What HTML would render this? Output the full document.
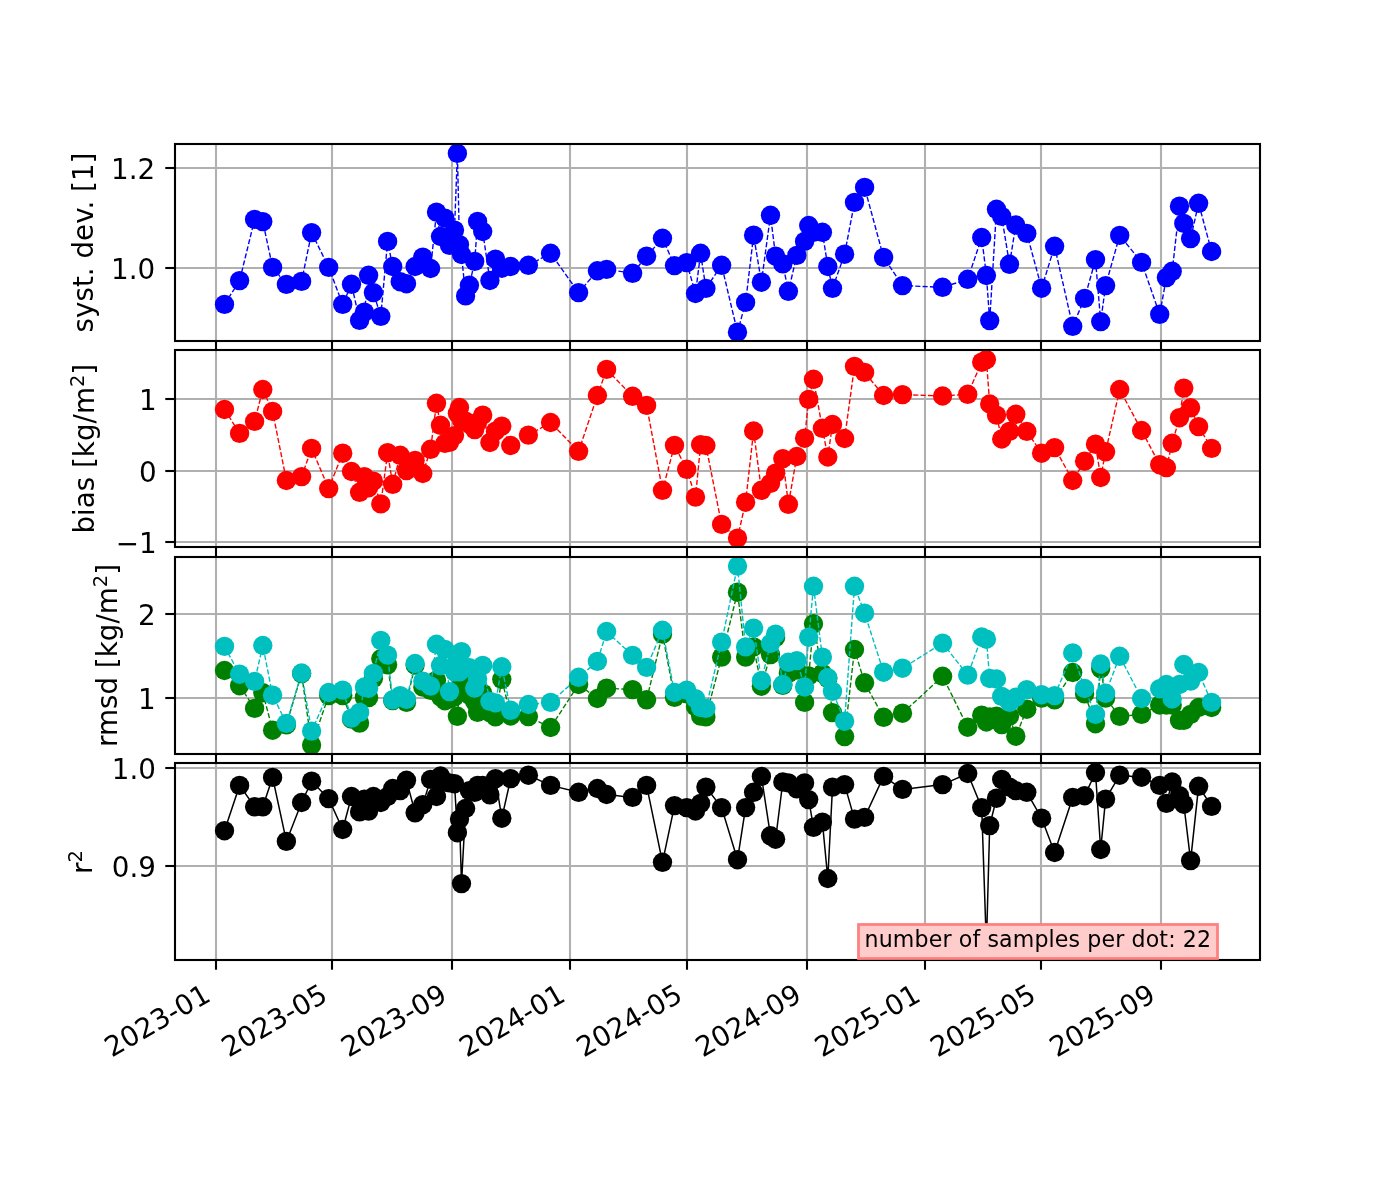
<!DOCTYPE html>
<html><head><meta charset="utf-8"><title>plot</title>
<style>html,body{margin:0;padding:0;background:#fff}svg{display:block}text{font-family:"DejaVu Sans","Liberation Sans",sans-serif;fill:#000}</style></head><body>
<svg width="1400" height="1200" viewBox="0 0 1400 1200">
<rect width="1400" height="1200" fill="#fff"/>
<defs>
<clipPath id="c0"><rect x="175.0" y="144.0" width="1085.0" height="197.0"/></clipPath>
<clipPath id="c1"><rect x="175.0" y="350.0" width="1085.0" height="197.0"/></clipPath>
<clipPath id="c2"><rect x="175.0" y="557.0" width="1085.0" height="197.0"/></clipPath>
<clipPath id="c3"><rect x="175.0" y="763.0" width="1085.0" height="197.0"/></clipPath>
</defs>
<g stroke="#b0b0b0" stroke-width="2.1" fill="none">
<line x1="216" y1="144.0" x2="216" y2="341.0"/>
<line x1="332" y1="144.0" x2="332" y2="341.0"/>
<line x1="452" y1="144.0" x2="452" y2="341.0"/>
<line x1="570" y1="144.0" x2="570" y2="341.0"/>
<line x1="687" y1="144.0" x2="687" y2="341.0"/>
<line x1="807" y1="144.0" x2="807" y2="341.0"/>
<line x1="925" y1="144.0" x2="925" y2="341.0"/>
<line x1="1041" y1="144.0" x2="1041" y2="341.0"/>
<line x1="1161" y1="144.0" x2="1161" y2="341.0"/>
<line x1="175.0" y1="168" x2="1260.0" y2="168"/>
<line x1="175.0" y1="268" x2="1260.0" y2="268"/>
</g>
<g clip-path="url(#c0)">
<polyline points="224.5,304.4 239.6,280.6 254.6,219.4 262.8,221.6 272.6,267.4 286.4,284.4 301.6,281.4 311.6,232.6 328.7,267.4 342.7,304.4 351.5,284.3 359.6,320.4 364.4,312.1 368.6,275.3 373.4,292.6 380.8,316.4 387.6,241.4 392.7,266.5 400.2,281.7 406.5,283.7 415.1,266.5 422.8,257.1 430.6,268.5 436.5,212.1 440.5,236.5 444.9,218.1 449.5,245.3 454.5,230.1 457.4,153.4 459.5,244.6 461.5,254.5 465.6,295.9 469.4,285.3 474.7,261.4 477.6,221.4 482.7,231.5 489.9,280.5 495.5,259.1 501.8,268.2 510.7,266.5 528.4,265.3 550.6,253.3 578.6,292.6 597.4,270.8 606.6,269.4 632.6,273.3 646.6,256.2 662.5,238.3 674.5,265.6 686.7,262.6 695.5,293.5 700.6,253.3 705.9,288.4 721.6,265.3 737.5,332.2 745.6,302.4 753.6,235.2 761.4,282.2 770.5,215.3 775.6,256.2 782.8,263.9 788.4,291.3 796.8,255.4 804.6,241.4 808.7,225.5 813.5,232.4 822.4,232.3 827.8,266.5 832.5,288.3 844.6,254.2 854.5,202.4 864.6,187.4 883.6,257.4 902.5,285.6 942.6,287.3 967.7,279.3 981.7,237.5 986.4,275.5 989.7,320.6 996.5,209.3 1001.7,216.4 1009.5,264.3 1015.8,225.0 1026.8,233.4 1041.6,288.2 1054.6,246.3 1072.7,326.3 1084.6,298.4 1095.5,259.7 1100.7,321.6 1105.6,285.6 1119.7,235.4 1141.6,262.4 1159.7,314.3 1166.4,277.6 1172.2,271.3 1179.5,206.2 1183.8,223.4 1190.6,238.6 1198.6,203.3 1211.6,251.5" fill="none" stroke="#0000ff" stroke-width="1.4" stroke-dasharray="5.1 2.2"/>
<g fill="#0000ff">
<circle cx="224.5" cy="304.4" r="9.68"/>
<circle cx="239.6" cy="280.6" r="9.68"/>
<circle cx="254.6" cy="219.4" r="9.68"/>
<circle cx="262.8" cy="221.6" r="9.68"/>
<circle cx="272.6" cy="267.4" r="9.68"/>
<circle cx="286.4" cy="284.4" r="9.68"/>
<circle cx="301.6" cy="281.4" r="9.68"/>
<circle cx="311.6" cy="232.6" r="9.68"/>
<circle cx="328.7" cy="267.4" r="9.68"/>
<circle cx="342.7" cy="304.4" r="9.68"/>
<circle cx="351.5" cy="284.3" r="9.68"/>
<circle cx="359.6" cy="320.4" r="9.68"/>
<circle cx="364.4" cy="312.1" r="9.68"/>
<circle cx="368.6" cy="275.3" r="9.68"/>
<circle cx="373.4" cy="292.6" r="9.68"/>
<circle cx="380.8" cy="316.4" r="9.68"/>
<circle cx="387.6" cy="241.4" r="9.68"/>
<circle cx="392.7" cy="266.5" r="9.68"/>
<circle cx="400.2" cy="281.7" r="9.68"/>
<circle cx="406.5" cy="283.7" r="9.68"/>
<circle cx="415.1" cy="266.5" r="9.68"/>
<circle cx="422.8" cy="257.1" r="9.68"/>
<circle cx="430.6" cy="268.5" r="9.68"/>
<circle cx="436.5" cy="212.1" r="9.68"/>
<circle cx="440.5" cy="236.5" r="9.68"/>
<circle cx="444.9" cy="218.1" r="9.68"/>
<circle cx="449.5" cy="245.3" r="9.68"/>
<circle cx="454.5" cy="230.1" r="9.68"/>
<circle cx="457.4" cy="153.4" r="9.68"/>
<circle cx="459.5" cy="244.6" r="9.68"/>
<circle cx="461.5" cy="254.5" r="9.68"/>
<circle cx="465.6" cy="295.9" r="9.68"/>
<circle cx="469.4" cy="285.3" r="9.68"/>
<circle cx="474.7" cy="261.4" r="9.68"/>
<circle cx="477.6" cy="221.4" r="9.68"/>
<circle cx="482.7" cy="231.5" r="9.68"/>
<circle cx="489.9" cy="280.5" r="9.68"/>
<circle cx="495.5" cy="259.1" r="9.68"/>
<circle cx="501.8" cy="268.2" r="9.68"/>
<circle cx="510.7" cy="266.5" r="9.68"/>
<circle cx="528.4" cy="265.3" r="9.68"/>
<circle cx="550.6" cy="253.3" r="9.68"/>
<circle cx="578.6" cy="292.6" r="9.68"/>
<circle cx="597.4" cy="270.8" r="9.68"/>
<circle cx="606.6" cy="269.4" r="9.68"/>
<circle cx="632.6" cy="273.3" r="9.68"/>
<circle cx="646.6" cy="256.2" r="9.68"/>
<circle cx="662.5" cy="238.3" r="9.68"/>
<circle cx="674.5" cy="265.6" r="9.68"/>
<circle cx="686.7" cy="262.6" r="9.68"/>
<circle cx="695.5" cy="293.5" r="9.68"/>
<circle cx="700.6" cy="253.3" r="9.68"/>
<circle cx="705.9" cy="288.4" r="9.68"/>
<circle cx="721.6" cy="265.3" r="9.68"/>
<circle cx="737.5" cy="332.2" r="9.68"/>
<circle cx="745.6" cy="302.4" r="9.68"/>
<circle cx="753.6" cy="235.2" r="9.68"/>
<circle cx="761.4" cy="282.2" r="9.68"/>
<circle cx="770.5" cy="215.3" r="9.68"/>
<circle cx="775.6" cy="256.2" r="9.68"/>
<circle cx="782.8" cy="263.9" r="9.68"/>
<circle cx="788.4" cy="291.3" r="9.68"/>
<circle cx="796.8" cy="255.4" r="9.68"/>
<circle cx="804.6" cy="241.4" r="9.68"/>
<circle cx="808.7" cy="225.5" r="9.68"/>
<circle cx="813.5" cy="232.4" r="9.68"/>
<circle cx="822.4" cy="232.3" r="9.68"/>
<circle cx="827.8" cy="266.5" r="9.68"/>
<circle cx="832.5" cy="288.3" r="9.68"/>
<circle cx="844.6" cy="254.2" r="9.68"/>
<circle cx="854.5" cy="202.4" r="9.68"/>
<circle cx="864.6" cy="187.4" r="9.68"/>
<circle cx="883.6" cy="257.4" r="9.68"/>
<circle cx="902.5" cy="285.6" r="9.68"/>
<circle cx="942.6" cy="287.3" r="9.68"/>
<circle cx="967.7" cy="279.3" r="9.68"/>
<circle cx="981.7" cy="237.5" r="9.68"/>
<circle cx="986.4" cy="275.5" r="9.68"/>
<circle cx="989.7" cy="320.6" r="9.68"/>
<circle cx="996.5" cy="209.3" r="9.68"/>
<circle cx="1001.7" cy="216.4" r="9.68"/>
<circle cx="1009.5" cy="264.3" r="9.68"/>
<circle cx="1015.8" cy="225.0" r="9.68"/>
<circle cx="1026.8" cy="233.4" r="9.68"/>
<circle cx="1041.6" cy="288.2" r="9.68"/>
<circle cx="1054.6" cy="246.3" r="9.68"/>
<circle cx="1072.7" cy="326.3" r="9.68"/>
<circle cx="1084.6" cy="298.4" r="9.68"/>
<circle cx="1095.5" cy="259.7" r="9.68"/>
<circle cx="1100.7" cy="321.6" r="9.68"/>
<circle cx="1105.6" cy="285.6" r="9.68"/>
<circle cx="1119.7" cy="235.4" r="9.68"/>
<circle cx="1141.6" cy="262.4" r="9.68"/>
<circle cx="1159.7" cy="314.3" r="9.68"/>
<circle cx="1166.4" cy="277.6" r="9.68"/>
<circle cx="1172.2" cy="271.3" r="9.68"/>
<circle cx="1179.5" cy="206.2" r="9.68"/>
<circle cx="1183.8" cy="223.4" r="9.68"/>
<circle cx="1190.6" cy="238.6" r="9.68"/>
<circle cx="1198.6" cy="203.3" r="9.68"/>
<circle cx="1211.6" cy="251.5" r="9.68"/>
</g>
</g>
<g stroke="#000" stroke-width="2.1">
<line x1="216" y1="341.0" x2="216" y2="350.72"/>
<line x1="332" y1="341.0" x2="332" y2="350.72"/>
<line x1="452" y1="341.0" x2="452" y2="350.72"/>
<line x1="570" y1="341.0" x2="570" y2="350.72"/>
<line x1="687" y1="341.0" x2="687" y2="350.72"/>
<line x1="807" y1="341.0" x2="807" y2="350.72"/>
<line x1="925" y1="341.0" x2="925" y2="350.72"/>
<line x1="1041" y1="341.0" x2="1041" y2="350.72"/>
<line x1="1161" y1="341.0" x2="1161" y2="350.72"/>
<line x1="165.28" y1="168" x2="175.0" y2="168"/>
<line x1="165.28" y1="268" x2="175.0" y2="268"/>
</g>
<rect x="175.0" y="144.0" width="1085.0" height="197.0" fill="none" stroke="#000" stroke-width="2.1"/>
<text x="155.26" y="178.85" font-size="27.78" text-anchor="end">1.2</text>
<text x="155.26" y="278.85" font-size="27.78" text-anchor="end">1.0</text>
<g stroke="#b0b0b0" stroke-width="2.1" fill="none">
<line x1="216" y1="350.0" x2="216" y2="547.0"/>
<line x1="332" y1="350.0" x2="332" y2="547.0"/>
<line x1="452" y1="350.0" x2="452" y2="547.0"/>
<line x1="570" y1="350.0" x2="570" y2="547.0"/>
<line x1="687" y1="350.0" x2="687" y2="547.0"/>
<line x1="807" y1="350.0" x2="807" y2="547.0"/>
<line x1="925" y1="350.0" x2="925" y2="547.0"/>
<line x1="1041" y1="350.0" x2="1041" y2="547.0"/>
<line x1="1161" y1="350.0" x2="1161" y2="547.0"/>
<line x1="175.0" y1="399" x2="1260.0" y2="399"/>
<line x1="175.0" y1="471" x2="1260.0" y2="471"/>
<line x1="175.0" y1="542" x2="1260.0" y2="542"/>
</g>
<g clip-path="url(#c1)">
<polyline points="224.5,409.5 239.6,433.4 254.6,421.4 262.8,389.5 272.6,411.4 286.4,480.5 301.6,476.6 311.6,448.4 328.7,488.6 342.7,453.2 351.5,471.5 359.6,492.3 364.4,476.6 368.6,487.7 373.4,481.2 380.8,503.9 387.6,452.7 392.7,484.3 400.2,455.3 406.5,470.6 415.1,460.4 422.8,473.5 430.6,449.3 436.5,403.3 440.5,425.3 444.9,443.4 449.5,442.3 454.5,435.6 457.4,413.3 459.5,407.5 461.5,420.1 465.6,421.1 469.4,424.1 474.7,429.6 477.6,422.1 482.7,415.1 489.9,442.5 495.5,431.2 501.8,426.1 510.7,445.5 528.4,435.1 550.6,422.5 578.6,451.3 597.4,395.5 606.6,369.4 632.6,396.3 646.6,405.4 662.5,490.3 674.5,445.4 686.7,469.3 695.5,497.1 700.6,444.7 705.9,445.5 721.6,524.4 737.5,538.1 745.6,502.2 753.6,431.0 761.4,490.3 770.5,483.4 775.6,473.2 782.8,458.7 788.4,504.3 796.8,456.5 804.6,438.2 808.7,399.4 813.5,379.3 822.4,428.3 827.8,457.0 832.5,424.5 844.6,438.5 854.5,366.4 864.6,372.4 883.6,395.5 902.5,394.6 942.6,396.0 967.7,394.3 981.7,362.2 986.4,359.6 989.7,404.0 996.5,415.1 1001.7,439.0 1009.5,431.4 1015.8,414.3 1026.8,431.4 1041.6,453.2 1054.6,447.6 1072.7,480.5 1084.6,461.2 1095.5,444.2 1100.7,477.5 1105.6,451.8 1119.7,389.5 1141.6,430.5 1159.7,464.7 1166.4,467.6 1172.2,443.3 1179.5,417.7 1183.8,388.1 1190.6,407.8 1198.6,426.6 1211.6,448.4" fill="none" stroke="#ff0000" stroke-width="1.4" stroke-dasharray="5.1 2.2"/>
<g fill="#ff0000">
<circle cx="224.5" cy="409.5" r="9.68"/>
<circle cx="239.6" cy="433.4" r="9.68"/>
<circle cx="254.6" cy="421.4" r="9.68"/>
<circle cx="262.8" cy="389.5" r="9.68"/>
<circle cx="272.6" cy="411.4" r="9.68"/>
<circle cx="286.4" cy="480.5" r="9.68"/>
<circle cx="301.6" cy="476.6" r="9.68"/>
<circle cx="311.6" cy="448.4" r="9.68"/>
<circle cx="328.7" cy="488.6" r="9.68"/>
<circle cx="342.7" cy="453.2" r="9.68"/>
<circle cx="351.5" cy="471.5" r="9.68"/>
<circle cx="359.6" cy="492.3" r="9.68"/>
<circle cx="364.4" cy="476.6" r="9.68"/>
<circle cx="368.6" cy="487.7" r="9.68"/>
<circle cx="373.4" cy="481.2" r="9.68"/>
<circle cx="380.8" cy="503.9" r="9.68"/>
<circle cx="387.6" cy="452.7" r="9.68"/>
<circle cx="392.7" cy="484.3" r="9.68"/>
<circle cx="400.2" cy="455.3" r="9.68"/>
<circle cx="406.5" cy="470.6" r="9.68"/>
<circle cx="415.1" cy="460.4" r="9.68"/>
<circle cx="422.8" cy="473.5" r="9.68"/>
<circle cx="430.6" cy="449.3" r="9.68"/>
<circle cx="436.5" cy="403.3" r="9.68"/>
<circle cx="440.5" cy="425.3" r="9.68"/>
<circle cx="444.9" cy="443.4" r="9.68"/>
<circle cx="449.5" cy="442.3" r="9.68"/>
<circle cx="454.5" cy="435.6" r="9.68"/>
<circle cx="457.4" cy="413.3" r="9.68"/>
<circle cx="459.5" cy="407.5" r="9.68"/>
<circle cx="461.5" cy="420.1" r="9.68"/>
<circle cx="465.6" cy="421.1" r="9.68"/>
<circle cx="469.4" cy="424.1" r="9.68"/>
<circle cx="474.7" cy="429.6" r="9.68"/>
<circle cx="477.6" cy="422.1" r="9.68"/>
<circle cx="482.7" cy="415.1" r="9.68"/>
<circle cx="489.9" cy="442.5" r="9.68"/>
<circle cx="495.5" cy="431.2" r="9.68"/>
<circle cx="501.8" cy="426.1" r="9.68"/>
<circle cx="510.7" cy="445.5" r="9.68"/>
<circle cx="528.4" cy="435.1" r="9.68"/>
<circle cx="550.6" cy="422.5" r="9.68"/>
<circle cx="578.6" cy="451.3" r="9.68"/>
<circle cx="597.4" cy="395.5" r="9.68"/>
<circle cx="606.6" cy="369.4" r="9.68"/>
<circle cx="632.6" cy="396.3" r="9.68"/>
<circle cx="646.6" cy="405.4" r="9.68"/>
<circle cx="662.5" cy="490.3" r="9.68"/>
<circle cx="674.5" cy="445.4" r="9.68"/>
<circle cx="686.7" cy="469.3" r="9.68"/>
<circle cx="695.5" cy="497.1" r="9.68"/>
<circle cx="700.6" cy="444.7" r="9.68"/>
<circle cx="705.9" cy="445.5" r="9.68"/>
<circle cx="721.6" cy="524.4" r="9.68"/>
<circle cx="737.5" cy="538.1" r="9.68"/>
<circle cx="745.6" cy="502.2" r="9.68"/>
<circle cx="753.6" cy="431.0" r="9.68"/>
<circle cx="761.4" cy="490.3" r="9.68"/>
<circle cx="770.5" cy="483.4" r="9.68"/>
<circle cx="775.6" cy="473.2" r="9.68"/>
<circle cx="782.8" cy="458.7" r="9.68"/>
<circle cx="788.4" cy="504.3" r="9.68"/>
<circle cx="796.8" cy="456.5" r="9.68"/>
<circle cx="804.6" cy="438.2" r="9.68"/>
<circle cx="808.7" cy="399.4" r="9.68"/>
<circle cx="813.5" cy="379.3" r="9.68"/>
<circle cx="822.4" cy="428.3" r="9.68"/>
<circle cx="827.8" cy="457.0" r="9.68"/>
<circle cx="832.5" cy="424.5" r="9.68"/>
<circle cx="844.6" cy="438.5" r="9.68"/>
<circle cx="854.5" cy="366.4" r="9.68"/>
<circle cx="864.6" cy="372.4" r="9.68"/>
<circle cx="883.6" cy="395.5" r="9.68"/>
<circle cx="902.5" cy="394.6" r="9.68"/>
<circle cx="942.6" cy="396.0" r="9.68"/>
<circle cx="967.7" cy="394.3" r="9.68"/>
<circle cx="981.7" cy="362.2" r="9.68"/>
<circle cx="986.4" cy="359.6" r="9.68"/>
<circle cx="989.7" cy="404.0" r="9.68"/>
<circle cx="996.5" cy="415.1" r="9.68"/>
<circle cx="1001.7" cy="439.0" r="9.68"/>
<circle cx="1009.5" cy="431.4" r="9.68"/>
<circle cx="1015.8" cy="414.3" r="9.68"/>
<circle cx="1026.8" cy="431.4" r="9.68"/>
<circle cx="1041.6" cy="453.2" r="9.68"/>
<circle cx="1054.6" cy="447.6" r="9.68"/>
<circle cx="1072.7" cy="480.5" r="9.68"/>
<circle cx="1084.6" cy="461.2" r="9.68"/>
<circle cx="1095.5" cy="444.2" r="9.68"/>
<circle cx="1100.7" cy="477.5" r="9.68"/>
<circle cx="1105.6" cy="451.8" r="9.68"/>
<circle cx="1119.7" cy="389.5" r="9.68"/>
<circle cx="1141.6" cy="430.5" r="9.68"/>
<circle cx="1159.7" cy="464.7" r="9.68"/>
<circle cx="1166.4" cy="467.6" r="9.68"/>
<circle cx="1172.2" cy="443.3" r="9.68"/>
<circle cx="1179.5" cy="417.7" r="9.68"/>
<circle cx="1183.8" cy="388.1" r="9.68"/>
<circle cx="1190.6" cy="407.8" r="9.68"/>
<circle cx="1198.6" cy="426.6" r="9.68"/>
<circle cx="1211.6" cy="448.4" r="9.68"/>
</g>
</g>
<g stroke="#000" stroke-width="2.1">
<line x1="216" y1="547.0" x2="216" y2="556.72"/>
<line x1="332" y1="547.0" x2="332" y2="556.72"/>
<line x1="452" y1="547.0" x2="452" y2="556.72"/>
<line x1="570" y1="547.0" x2="570" y2="556.72"/>
<line x1="687" y1="547.0" x2="687" y2="556.72"/>
<line x1="807" y1="547.0" x2="807" y2="556.72"/>
<line x1="925" y1="547.0" x2="925" y2="556.72"/>
<line x1="1041" y1="547.0" x2="1041" y2="556.72"/>
<line x1="1161" y1="547.0" x2="1161" y2="556.72"/>
<line x1="165.28" y1="399" x2="175.0" y2="399"/>
<line x1="165.28" y1="471" x2="175.0" y2="471"/>
<line x1="165.28" y1="542" x2="175.0" y2="542"/>
</g>
<rect x="175.0" y="350.0" width="1085.0" height="197.0" fill="none" stroke="#000" stroke-width="2.1"/>
<text x="156.76" y="409.85" font-size="27.78" text-anchor="end">1</text>
<text x="156.76" y="481.85" font-size="27.78" text-anchor="end">0</text>
<text x="156.76" y="552.85" font-size="27.78" text-anchor="end">−1</text>
<g stroke="#b0b0b0" stroke-width="2.1" fill="none">
<line x1="216" y1="557.0" x2="216" y2="754.0"/>
<line x1="332" y1="557.0" x2="332" y2="754.0"/>
<line x1="452" y1="557.0" x2="452" y2="754.0"/>
<line x1="570" y1="557.0" x2="570" y2="754.0"/>
<line x1="687" y1="557.0" x2="687" y2="754.0"/>
<line x1="807" y1="557.0" x2="807" y2="754.0"/>
<line x1="925" y1="557.0" x2="925" y2="754.0"/>
<line x1="1041" y1="557.0" x2="1041" y2="754.0"/>
<line x1="1161" y1="557.0" x2="1161" y2="754.0"/>
<line x1="175.0" y1="614" x2="1260.0" y2="614"/>
<line x1="175.0" y1="698" x2="1260.0" y2="698"/>
</g>
<g clip-path="url(#c2)">
<polyline points="224.5,670.5 239.6,685.7 254.6,708.4 262.8,692.7 272.6,730.2 286.4,724.9 301.6,673.6 311.6,745.1 328.7,695.6 342.7,695.6 351.5,719.1 359.6,723.1 364.4,697.3 368.6,697.6 373.4,678.5 380.8,658.8 387.6,664.8 392.7,700.6 400.2,697.1 406.5,702.4 415.1,665.1 422.8,687.1 430.6,690.4 436.5,680.1 440.5,696.8 444.9,700.7 449.5,699.1 454.5,696.8 457.4,716.3 459.5,690.1 461.5,680.1 465.6,690.1 469.4,695.1 474.7,701.7 477.6,712.3 482.7,693.1 489.9,712.6 495.5,716.8 501.8,679.3 510.7,716.0 528.4,716.6 550.6,727.5 578.6,684.5 597.4,698.5 606.6,688.2 632.6,689.6 646.6,699.8 662.5,634.1 674.5,697.3 686.7,693.9 695.5,706.7 700.6,716.1 705.9,716.9 721.6,657.1 737.5,592.2 745.6,657.1 753.6,646.9 761.4,686.2 770.5,654.6 775.6,637.5 782.8,685.3 788.4,673.4 796.8,670.0 804.6,702.4 808.7,675.9 813.5,623.8 822.4,673.4 827.8,678.5 832.5,712.6 844.6,736.6 854.5,649.5 864.6,682.8 883.6,717.3 902.5,713.2 942.6,676.3 967.7,727.2 981.7,715.2 986.4,722.0 989.7,716.9 996.5,716.1 1001.7,724.6 1009.5,716.1 1015.8,736.2 1026.8,709.2 1041.6,698.1 1054.6,699.8 1072.7,672.5 1084.6,693.9 1095.5,723.7 1100.7,668.6 1105.6,698.1 1119.7,716.4 1141.6,714.4 1159.7,705.0 1166.4,705.0 1172.2,705.0 1179.5,720.3 1183.8,720.3 1190.6,714.4 1198.6,707.5 1211.6,707.5" fill="none" stroke="#008000" stroke-width="1.4" stroke-dasharray="5.1 2.2"/>
<g fill="#008000">
<circle cx="224.5" cy="670.5" r="9.68"/>
<circle cx="239.6" cy="685.7" r="9.68"/>
<circle cx="254.6" cy="708.4" r="9.68"/>
<circle cx="262.8" cy="692.7" r="9.68"/>
<circle cx="272.6" cy="730.2" r="9.68"/>
<circle cx="286.4" cy="724.9" r="9.68"/>
<circle cx="301.6" cy="673.6" r="9.68"/>
<circle cx="311.6" cy="745.1" r="9.68"/>
<circle cx="328.7" cy="695.6" r="9.68"/>
<circle cx="342.7" cy="695.6" r="9.68"/>
<circle cx="351.5" cy="719.1" r="9.68"/>
<circle cx="359.6" cy="723.1" r="9.68"/>
<circle cx="364.4" cy="697.3" r="9.68"/>
<circle cx="368.6" cy="697.6" r="9.68"/>
<circle cx="373.4" cy="678.5" r="9.68"/>
<circle cx="380.8" cy="658.8" r="9.68"/>
<circle cx="387.6" cy="664.8" r="9.68"/>
<circle cx="392.7" cy="700.6" r="9.68"/>
<circle cx="400.2" cy="697.1" r="9.68"/>
<circle cx="406.5" cy="702.4" r="9.68"/>
<circle cx="415.1" cy="665.1" r="9.68"/>
<circle cx="422.8" cy="687.1" r="9.68"/>
<circle cx="430.6" cy="690.4" r="9.68"/>
<circle cx="436.5" cy="680.1" r="9.68"/>
<circle cx="440.5" cy="696.8" r="9.68"/>
<circle cx="444.9" cy="700.7" r="9.68"/>
<circle cx="449.5" cy="699.1" r="9.68"/>
<circle cx="454.5" cy="696.8" r="9.68"/>
<circle cx="457.4" cy="716.3" r="9.68"/>
<circle cx="459.5" cy="690.1" r="9.68"/>
<circle cx="461.5" cy="680.1" r="9.68"/>
<circle cx="465.6" cy="690.1" r="9.68"/>
<circle cx="469.4" cy="695.1" r="9.68"/>
<circle cx="474.7" cy="701.7" r="9.68"/>
<circle cx="477.6" cy="712.3" r="9.68"/>
<circle cx="482.7" cy="693.1" r="9.68"/>
<circle cx="489.9" cy="712.6" r="9.68"/>
<circle cx="495.5" cy="716.8" r="9.68"/>
<circle cx="501.8" cy="679.3" r="9.68"/>
<circle cx="510.7" cy="716.0" r="9.68"/>
<circle cx="528.4" cy="716.6" r="9.68"/>
<circle cx="550.6" cy="727.5" r="9.68"/>
<circle cx="578.6" cy="684.5" r="9.68"/>
<circle cx="597.4" cy="698.5" r="9.68"/>
<circle cx="606.6" cy="688.2" r="9.68"/>
<circle cx="632.6" cy="689.6" r="9.68"/>
<circle cx="646.6" cy="699.8" r="9.68"/>
<circle cx="662.5" cy="634.1" r="9.68"/>
<circle cx="674.5" cy="697.3" r="9.68"/>
<circle cx="686.7" cy="693.9" r="9.68"/>
<circle cx="695.5" cy="706.7" r="9.68"/>
<circle cx="700.6" cy="716.1" r="9.68"/>
<circle cx="705.9" cy="716.9" r="9.68"/>
<circle cx="721.6" cy="657.1" r="9.68"/>
<circle cx="737.5" cy="592.2" r="9.68"/>
<circle cx="745.6" cy="657.1" r="9.68"/>
<circle cx="753.6" cy="646.9" r="9.68"/>
<circle cx="761.4" cy="686.2" r="9.68"/>
<circle cx="770.5" cy="654.6" r="9.68"/>
<circle cx="775.6" cy="637.5" r="9.68"/>
<circle cx="782.8" cy="685.3" r="9.68"/>
<circle cx="788.4" cy="673.4" r="9.68"/>
<circle cx="796.8" cy="670.0" r="9.68"/>
<circle cx="804.6" cy="702.4" r="9.68"/>
<circle cx="808.7" cy="675.9" r="9.68"/>
<circle cx="813.5" cy="623.8" r="9.68"/>
<circle cx="822.4" cy="673.4" r="9.68"/>
<circle cx="827.8" cy="678.5" r="9.68"/>
<circle cx="832.5" cy="712.6" r="9.68"/>
<circle cx="844.6" cy="736.6" r="9.68"/>
<circle cx="854.5" cy="649.5" r="9.68"/>
<circle cx="864.6" cy="682.8" r="9.68"/>
<circle cx="883.6" cy="717.3" r="9.68"/>
<circle cx="902.5" cy="713.2" r="9.68"/>
<circle cx="942.6" cy="676.3" r="9.68"/>
<circle cx="967.7" cy="727.2" r="9.68"/>
<circle cx="981.7" cy="715.2" r="9.68"/>
<circle cx="986.4" cy="722.0" r="9.68"/>
<circle cx="989.7" cy="716.9" r="9.68"/>
<circle cx="996.5" cy="716.1" r="9.68"/>
<circle cx="1001.7" cy="724.6" r="9.68"/>
<circle cx="1009.5" cy="716.1" r="9.68"/>
<circle cx="1015.8" cy="736.2" r="9.68"/>
<circle cx="1026.8" cy="709.2" r="9.68"/>
<circle cx="1041.6" cy="698.1" r="9.68"/>
<circle cx="1054.6" cy="699.8" r="9.68"/>
<circle cx="1072.7" cy="672.5" r="9.68"/>
<circle cx="1084.6" cy="693.9" r="9.68"/>
<circle cx="1095.5" cy="723.7" r="9.68"/>
<circle cx="1100.7" cy="668.6" r="9.68"/>
<circle cx="1105.6" cy="698.1" r="9.68"/>
<circle cx="1119.7" cy="716.4" r="9.68"/>
<circle cx="1141.6" cy="714.4" r="9.68"/>
<circle cx="1159.7" cy="705.0" r="9.68"/>
<circle cx="1166.4" cy="705.0" r="9.68"/>
<circle cx="1172.2" cy="705.0" r="9.68"/>
<circle cx="1179.5" cy="720.3" r="9.68"/>
<circle cx="1183.8" cy="720.3" r="9.68"/>
<circle cx="1190.6" cy="714.4" r="9.68"/>
<circle cx="1198.6" cy="707.5" r="9.68"/>
<circle cx="1211.6" cy="707.5" r="9.68"/>
</g>
<polyline points="224.5,646.4 239.6,674.2 254.6,681.4 262.8,645.5 272.6,695.2 286.4,723.4 301.6,673.0 311.6,731.1 328.7,692.5 342.7,690.1 351.5,718.1 359.6,712.4 364.4,687.0 368.6,688.2 373.4,673.4 380.8,640.4 387.6,655.1 392.7,699.8 400.2,695.6 406.5,699.3 415.1,663.5 422.8,681.1 430.6,686.1 436.5,644.3 440.5,665.6 444.9,649.4 449.5,691.6 454.5,671.8 457.4,659.1 459.5,671.8 461.5,651.6 465.6,668.1 469.4,667.6 474.7,688.1 477.6,678.8 482.7,665.4 489.9,701.4 495.5,702.9 501.8,666.8 510.7,710.3 528.4,704.5 550.6,702.4 578.6,677.3 597.4,661.4 606.6,631.5 632.6,655.4 646.6,667.4 662.5,630.3 674.5,692.5 686.7,690.1 695.5,698.6 700.6,707.5 705.9,708.4 721.6,642.1 737.5,566.1 745.6,646.9 753.6,628.1 761.4,680.7 770.5,643.5 775.6,634.1 782.8,684.5 788.4,662.3 796.8,660.6 804.6,687.0 808.7,637.2 813.5,586.3 822.4,657.1 827.8,677.6 832.5,691.3 844.6,721.2 854.5,586.3 864.6,613.2 883.6,672.2 902.5,668.2 942.6,643.1 967.7,675.1 981.7,637.0 986.4,639.2 989.7,678.5 996.5,679.0 1001.7,696.4 1009.5,702.4 1015.8,697.3 1026.8,689.6 1041.6,694.7 1054.6,695.6 1072.7,652.9 1084.6,688.5 1095.5,714.4 1100.7,664.0 1105.6,693.3 1119.7,656.3 1141.6,698.5 1159.7,688.7 1166.4,684.5 1172.2,699.0 1179.5,684.5 1183.8,664.5 1190.6,681.1 1198.6,672.5 1211.6,702.4" fill="none" stroke="#00bfbf" stroke-width="1.4" stroke-dasharray="5.1 2.2"/>
<g fill="#00bfbf">
<circle cx="224.5" cy="646.4" r="9.68"/>
<circle cx="239.6" cy="674.2" r="9.68"/>
<circle cx="254.6" cy="681.4" r="9.68"/>
<circle cx="262.8" cy="645.5" r="9.68"/>
<circle cx="272.6" cy="695.2" r="9.68"/>
<circle cx="286.4" cy="723.4" r="9.68"/>
<circle cx="301.6" cy="673.0" r="9.68"/>
<circle cx="311.6" cy="731.1" r="9.68"/>
<circle cx="328.7" cy="692.5" r="9.68"/>
<circle cx="342.7" cy="690.1" r="9.68"/>
<circle cx="351.5" cy="718.1" r="9.68"/>
<circle cx="359.6" cy="712.4" r="9.68"/>
<circle cx="364.4" cy="687.0" r="9.68"/>
<circle cx="368.6" cy="688.2" r="9.68"/>
<circle cx="373.4" cy="673.4" r="9.68"/>
<circle cx="380.8" cy="640.4" r="9.68"/>
<circle cx="387.6" cy="655.1" r="9.68"/>
<circle cx="392.7" cy="699.8" r="9.68"/>
<circle cx="400.2" cy="695.6" r="9.68"/>
<circle cx="406.5" cy="699.3" r="9.68"/>
<circle cx="415.1" cy="663.5" r="9.68"/>
<circle cx="422.8" cy="681.1" r="9.68"/>
<circle cx="430.6" cy="686.1" r="9.68"/>
<circle cx="436.5" cy="644.3" r="9.68"/>
<circle cx="440.5" cy="665.6" r="9.68"/>
<circle cx="444.9" cy="649.4" r="9.68"/>
<circle cx="449.5" cy="691.6" r="9.68"/>
<circle cx="454.5" cy="671.8" r="9.68"/>
<circle cx="457.4" cy="659.1" r="9.68"/>
<circle cx="459.5" cy="671.8" r="9.68"/>
<circle cx="461.5" cy="651.6" r="9.68"/>
<circle cx="465.6" cy="668.1" r="9.68"/>
<circle cx="469.4" cy="667.6" r="9.68"/>
<circle cx="474.7" cy="688.1" r="9.68"/>
<circle cx="477.6" cy="678.8" r="9.68"/>
<circle cx="482.7" cy="665.4" r="9.68"/>
<circle cx="489.9" cy="701.4" r="9.68"/>
<circle cx="495.5" cy="702.9" r="9.68"/>
<circle cx="501.8" cy="666.8" r="9.68"/>
<circle cx="510.7" cy="710.3" r="9.68"/>
<circle cx="528.4" cy="704.5" r="9.68"/>
<circle cx="550.6" cy="702.4" r="9.68"/>
<circle cx="578.6" cy="677.3" r="9.68"/>
<circle cx="597.4" cy="661.4" r="9.68"/>
<circle cx="606.6" cy="631.5" r="9.68"/>
<circle cx="632.6" cy="655.4" r="9.68"/>
<circle cx="646.6" cy="667.4" r="9.68"/>
<circle cx="662.5" cy="630.3" r="9.68"/>
<circle cx="674.5" cy="692.5" r="9.68"/>
<circle cx="686.7" cy="690.1" r="9.68"/>
<circle cx="695.5" cy="698.6" r="9.68"/>
<circle cx="700.6" cy="707.5" r="9.68"/>
<circle cx="705.9" cy="708.4" r="9.68"/>
<circle cx="721.6" cy="642.1" r="9.68"/>
<circle cx="737.5" cy="566.1" r="9.68"/>
<circle cx="745.6" cy="646.9" r="9.68"/>
<circle cx="753.6" cy="628.1" r="9.68"/>
<circle cx="761.4" cy="680.7" r="9.68"/>
<circle cx="770.5" cy="643.5" r="9.68"/>
<circle cx="775.6" cy="634.1" r="9.68"/>
<circle cx="782.8" cy="684.5" r="9.68"/>
<circle cx="788.4" cy="662.3" r="9.68"/>
<circle cx="796.8" cy="660.6" r="9.68"/>
<circle cx="804.6" cy="687.0" r="9.68"/>
<circle cx="808.7" cy="637.2" r="9.68"/>
<circle cx="813.5" cy="586.3" r="9.68"/>
<circle cx="822.4" cy="657.1" r="9.68"/>
<circle cx="827.8" cy="677.6" r="9.68"/>
<circle cx="832.5" cy="691.3" r="9.68"/>
<circle cx="844.6" cy="721.2" r="9.68"/>
<circle cx="854.5" cy="586.3" r="9.68"/>
<circle cx="864.6" cy="613.2" r="9.68"/>
<circle cx="883.6" cy="672.2" r="9.68"/>
<circle cx="902.5" cy="668.2" r="9.68"/>
<circle cx="942.6" cy="643.1" r="9.68"/>
<circle cx="967.7" cy="675.1" r="9.68"/>
<circle cx="981.7" cy="637.0" r="9.68"/>
<circle cx="986.4" cy="639.2" r="9.68"/>
<circle cx="989.7" cy="678.5" r="9.68"/>
<circle cx="996.5" cy="679.0" r="9.68"/>
<circle cx="1001.7" cy="696.4" r="9.68"/>
<circle cx="1009.5" cy="702.4" r="9.68"/>
<circle cx="1015.8" cy="697.3" r="9.68"/>
<circle cx="1026.8" cy="689.6" r="9.68"/>
<circle cx="1041.6" cy="694.7" r="9.68"/>
<circle cx="1054.6" cy="695.6" r="9.68"/>
<circle cx="1072.7" cy="652.9" r="9.68"/>
<circle cx="1084.6" cy="688.5" r="9.68"/>
<circle cx="1095.5" cy="714.4" r="9.68"/>
<circle cx="1100.7" cy="664.0" r="9.68"/>
<circle cx="1105.6" cy="693.3" r="9.68"/>
<circle cx="1119.7" cy="656.3" r="9.68"/>
<circle cx="1141.6" cy="698.5" r="9.68"/>
<circle cx="1159.7" cy="688.7" r="9.68"/>
<circle cx="1166.4" cy="684.5" r="9.68"/>
<circle cx="1172.2" cy="699.0" r="9.68"/>
<circle cx="1179.5" cy="684.5" r="9.68"/>
<circle cx="1183.8" cy="664.5" r="9.68"/>
<circle cx="1190.6" cy="681.1" r="9.68"/>
<circle cx="1198.6" cy="672.5" r="9.68"/>
<circle cx="1211.6" cy="702.4" r="9.68"/>
</g>
</g>
<g stroke="#000" stroke-width="2.1">
<line x1="216" y1="754.0" x2="216" y2="763.72"/>
<line x1="332" y1="754.0" x2="332" y2="763.72"/>
<line x1="452" y1="754.0" x2="452" y2="763.72"/>
<line x1="570" y1="754.0" x2="570" y2="763.72"/>
<line x1="687" y1="754.0" x2="687" y2="763.72"/>
<line x1="807" y1="754.0" x2="807" y2="763.72"/>
<line x1="925" y1="754.0" x2="925" y2="763.72"/>
<line x1="1041" y1="754.0" x2="1041" y2="763.72"/>
<line x1="1161" y1="754.0" x2="1161" y2="763.72"/>
<line x1="165.28" y1="614" x2="175.0" y2="614"/>
<line x1="165.28" y1="698" x2="175.0" y2="698"/>
</g>
<rect x="175.0" y="557.0" width="1085.0" height="197.0" fill="none" stroke="#000" stroke-width="2.1"/>
<text x="155.56" y="624.85" font-size="27.78" text-anchor="end">2</text>
<text x="155.56" y="708.85" font-size="27.78" text-anchor="end">1</text>
<g stroke="#b0b0b0" stroke-width="2.1" fill="none">
<line x1="216" y1="763.0" x2="216" y2="960.0"/>
<line x1="332" y1="763.0" x2="332" y2="960.0"/>
<line x1="452" y1="763.0" x2="452" y2="960.0"/>
<line x1="570" y1="763.0" x2="570" y2="960.0"/>
<line x1="687" y1="763.0" x2="687" y2="960.0"/>
<line x1="807" y1="763.0" x2="807" y2="960.0"/>
<line x1="925" y1="763.0" x2="925" y2="960.0"/>
<line x1="1041" y1="763.0" x2="1041" y2="960.0"/>
<line x1="1161" y1="763.0" x2="1161" y2="960.0"/>
<line x1="175.0" y1="768" x2="1260.0" y2="768"/>
<line x1="175.0" y1="866" x2="1260.0" y2="866"/>
</g>
<g clip-path="url(#c3)">
<polyline points="224.5,830.7 239.6,785.4 254.6,806.8 262.8,806.8 272.6,777.4 286.4,841.4 301.6,802.5 311.6,781.2 328.7,798.6 342.7,829.5 351.5,796.5 359.6,811.9 364.4,799.1 368.6,811.1 373.4,796.5 380.8,802.5 387.6,796.5 392.7,788.5 400.2,790.6 406.5,780.3 415.1,812.8 422.8,804.6 430.6,779.4 436.5,796.5 440.5,776.0 444.9,782.0 449.5,782.9 454.5,783.7 457.4,832.7 459.5,819.1 461.5,883.6 465.6,808.5 469.4,790.6 474.7,792.3 477.6,785.4 482.7,785.4 489.9,794.8 495.5,778.6 501.8,818.2 510.7,778.6 528.4,775.2 550.6,785.4 578.6,792.3 597.4,788.5 606.6,794.5 632.6,797.4 646.6,785.4 662.5,862.3 674.5,805.6 686.7,807.6 695.5,811.0 700.6,803.4 705.9,787.1 721.6,807.6 737.5,859.7 745.6,807.6 753.6,792.3 761.4,776.4 770.5,835.8 775.6,839.2 782.8,782.0 788.4,782.9 796.8,788.8 804.6,782.9 808.7,799.6 813.5,827.3 822.4,822.1 827.8,878.5 832.5,787.1 844.6,784.6 854.5,819.1 864.6,817.4 883.6,776.4 902.5,789.4 942.6,784.6 967.7,773.5 981.7,807.6 986.4,946.1 989.7,825.6 996.5,798.2 1001.7,779.4 1009.5,787.1 1015.8,790.6 1026.8,792.3 1041.6,818.2 1054.6,852.5 1072.7,797.4 1084.6,795.7 1095.5,772.6 1100.7,849.5 1105.6,799.1 1119.7,775.2 1141.6,777.2 1159.7,785.4 1166.4,803.4 1172.2,782.0 1179.5,795.7 1183.8,804.2 1190.6,860.6 1198.6,786.3 1211.6,806.4" fill="none" stroke="#000000" stroke-width="1.5"/>
<g fill="#000000">
<circle cx="224.5" cy="830.7" r="9.68"/>
<circle cx="239.6" cy="785.4" r="9.68"/>
<circle cx="254.6" cy="806.8" r="9.68"/>
<circle cx="262.8" cy="806.8" r="9.68"/>
<circle cx="272.6" cy="777.4" r="9.68"/>
<circle cx="286.4" cy="841.4" r="9.68"/>
<circle cx="301.6" cy="802.5" r="9.68"/>
<circle cx="311.6" cy="781.2" r="9.68"/>
<circle cx="328.7" cy="798.6" r="9.68"/>
<circle cx="342.7" cy="829.5" r="9.68"/>
<circle cx="351.5" cy="796.5" r="9.68"/>
<circle cx="359.6" cy="811.9" r="9.68"/>
<circle cx="364.4" cy="799.1" r="9.68"/>
<circle cx="368.6" cy="811.1" r="9.68"/>
<circle cx="373.4" cy="796.5" r="9.68"/>
<circle cx="380.8" cy="802.5" r="9.68"/>
<circle cx="387.6" cy="796.5" r="9.68"/>
<circle cx="392.7" cy="788.5" r="9.68"/>
<circle cx="400.2" cy="790.6" r="9.68"/>
<circle cx="406.5" cy="780.3" r="9.68"/>
<circle cx="415.1" cy="812.8" r="9.68"/>
<circle cx="422.8" cy="804.6" r="9.68"/>
<circle cx="430.6" cy="779.4" r="9.68"/>
<circle cx="436.5" cy="796.5" r="9.68"/>
<circle cx="440.5" cy="776.0" r="9.68"/>
<circle cx="444.9" cy="782.0" r="9.68"/>
<circle cx="449.5" cy="782.9" r="9.68"/>
<circle cx="454.5" cy="783.7" r="9.68"/>
<circle cx="457.4" cy="832.7" r="9.68"/>
<circle cx="459.5" cy="819.1" r="9.68"/>
<circle cx="461.5" cy="883.6" r="9.68"/>
<circle cx="465.6" cy="808.5" r="9.68"/>
<circle cx="469.4" cy="790.6" r="9.68"/>
<circle cx="474.7" cy="792.3" r="9.68"/>
<circle cx="477.6" cy="785.4" r="9.68"/>
<circle cx="482.7" cy="785.4" r="9.68"/>
<circle cx="489.9" cy="794.8" r="9.68"/>
<circle cx="495.5" cy="778.6" r="9.68"/>
<circle cx="501.8" cy="818.2" r="9.68"/>
<circle cx="510.7" cy="778.6" r="9.68"/>
<circle cx="528.4" cy="775.2" r="9.68"/>
<circle cx="550.6" cy="785.4" r="9.68"/>
<circle cx="578.6" cy="792.3" r="9.68"/>
<circle cx="597.4" cy="788.5" r="9.68"/>
<circle cx="606.6" cy="794.5" r="9.68"/>
<circle cx="632.6" cy="797.4" r="9.68"/>
<circle cx="646.6" cy="785.4" r="9.68"/>
<circle cx="662.5" cy="862.3" r="9.68"/>
<circle cx="674.5" cy="805.6" r="9.68"/>
<circle cx="686.7" cy="807.6" r="9.68"/>
<circle cx="695.5" cy="811.0" r="9.68"/>
<circle cx="700.6" cy="803.4" r="9.68"/>
<circle cx="705.9" cy="787.1" r="9.68"/>
<circle cx="721.6" cy="807.6" r="9.68"/>
<circle cx="737.5" cy="859.7" r="9.68"/>
<circle cx="745.6" cy="807.6" r="9.68"/>
<circle cx="753.6" cy="792.3" r="9.68"/>
<circle cx="761.4" cy="776.4" r="9.68"/>
<circle cx="770.5" cy="835.8" r="9.68"/>
<circle cx="775.6" cy="839.2" r="9.68"/>
<circle cx="782.8" cy="782.0" r="9.68"/>
<circle cx="788.4" cy="782.9" r="9.68"/>
<circle cx="796.8" cy="788.8" r="9.68"/>
<circle cx="804.6" cy="782.9" r="9.68"/>
<circle cx="808.7" cy="799.6" r="9.68"/>
<circle cx="813.5" cy="827.3" r="9.68"/>
<circle cx="822.4" cy="822.1" r="9.68"/>
<circle cx="827.8" cy="878.5" r="9.68"/>
<circle cx="832.5" cy="787.1" r="9.68"/>
<circle cx="844.6" cy="784.6" r="9.68"/>
<circle cx="854.5" cy="819.1" r="9.68"/>
<circle cx="864.6" cy="817.4" r="9.68"/>
<circle cx="883.6" cy="776.4" r="9.68"/>
<circle cx="902.5" cy="789.4" r="9.68"/>
<circle cx="942.6" cy="784.6" r="9.68"/>
<circle cx="967.7" cy="773.5" r="9.68"/>
<circle cx="981.7" cy="807.6" r="9.68"/>
<circle cx="986.4" cy="946.1" r="9.68"/>
<circle cx="989.7" cy="825.6" r="9.68"/>
<circle cx="996.5" cy="798.2" r="9.68"/>
<circle cx="1001.7" cy="779.4" r="9.68"/>
<circle cx="1009.5" cy="787.1" r="9.68"/>
<circle cx="1015.8" cy="790.6" r="9.68"/>
<circle cx="1026.8" cy="792.3" r="9.68"/>
<circle cx="1041.6" cy="818.2" r="9.68"/>
<circle cx="1054.6" cy="852.5" r="9.68"/>
<circle cx="1072.7" cy="797.4" r="9.68"/>
<circle cx="1084.6" cy="795.7" r="9.68"/>
<circle cx="1095.5" cy="772.6" r="9.68"/>
<circle cx="1100.7" cy="849.5" r="9.68"/>
<circle cx="1105.6" cy="799.1" r="9.68"/>
<circle cx="1119.7" cy="775.2" r="9.68"/>
<circle cx="1141.6" cy="777.2" r="9.68"/>
<circle cx="1159.7" cy="785.4" r="9.68"/>
<circle cx="1166.4" cy="803.4" r="9.68"/>
<circle cx="1172.2" cy="782.0" r="9.68"/>
<circle cx="1179.5" cy="795.7" r="9.68"/>
<circle cx="1183.8" cy="804.2" r="9.68"/>
<circle cx="1190.6" cy="860.6" r="9.68"/>
<circle cx="1198.6" cy="786.3" r="9.68"/>
<circle cx="1211.6" cy="806.4" r="9.68"/>
</g>
</g>
<g stroke="#000" stroke-width="2.1">
<line x1="216" y1="960.0" x2="216" y2="969.72"/>
<line x1="332" y1="960.0" x2="332" y2="969.72"/>
<line x1="452" y1="960.0" x2="452" y2="969.72"/>
<line x1="570" y1="960.0" x2="570" y2="969.72"/>
<line x1="687" y1="960.0" x2="687" y2="969.72"/>
<line x1="807" y1="960.0" x2="807" y2="969.72"/>
<line x1="925" y1="960.0" x2="925" y2="969.72"/>
<line x1="1041" y1="960.0" x2="1041" y2="969.72"/>
<line x1="1161" y1="960.0" x2="1161" y2="969.72"/>
<line x1="165.28" y1="768" x2="175.0" y2="768"/>
<line x1="165.28" y1="866" x2="175.0" y2="866"/>
</g>
<rect x="175.0" y="763.0" width="1085.0" height="197.0" fill="none" stroke="#000" stroke-width="2.1"/>
<text x="155.96" y="778.85" font-size="27.78" text-anchor="end">1.0</text>
<text x="155.96" y="876.85" font-size="27.78" text-anchor="end">0.9</text>
<rect x="858.5" y="924.5" width="359" height="34.0" fill="#ffcccc" stroke="#ff8080" stroke-width="2.78"/>
<text x="864.6" y="947" font-size="22.1" textLength="346.5" lengthAdjust="spacing">number of samples per dot: 22</text>
<text transform="translate(212.20,999.8) rotate(-30)" font-size="27.78" text-anchor="end">2023-01</text>
<text transform="translate(329.30,999.8) rotate(-30)" font-size="27.78" text-anchor="end">2023-05</text>
<text transform="translate(448.70,999.8) rotate(-30)" font-size="27.78" text-anchor="end">2023-09</text>
<text transform="translate(567.00,999.8) rotate(-30)" font-size="27.78" text-anchor="end">2024-01</text>
<text transform="translate(684.20,999.8) rotate(-30)" font-size="27.78" text-anchor="end">2024-05</text>
<text transform="translate(803.20,999.8) rotate(-30)" font-size="27.78" text-anchor="end">2024-09</text>
<text transform="translate(922.40,999.8) rotate(-30)" font-size="27.78" text-anchor="end">2025-01</text>
<text transform="translate(1037.90,999.8) rotate(-30)" font-size="27.78" text-anchor="end">2025-05</text>
<text transform="translate(1157.20,999.8) rotate(-30)" font-size="27.78" text-anchor="end">2025-09</text>
<text transform="translate(93.0,242.5) rotate(-90)" font-size="27.78" text-anchor="middle">syst. dev. [1]</text>
<text transform="translate(93.8,448.7) rotate(-90)" font-size="27.78" text-anchor="middle">bias [kg/m<tspan dy="-10" font-size="19.45">2</tspan><tspan dy="10">]</tspan></text>
<text transform="translate(116.6,655.5) rotate(-90)" font-size="27.78" text-anchor="middle">rmsd [kg/m<tspan dy="-10" font-size="19.45">2</tspan><tspan dy="10">]</tspan></text>
<text transform="translate(91.7,862.0) rotate(-90)" font-size="27.78" text-anchor="middle">r<tspan dy="-10" font-size="19.45">2</tspan></text>
</svg></body></html>
